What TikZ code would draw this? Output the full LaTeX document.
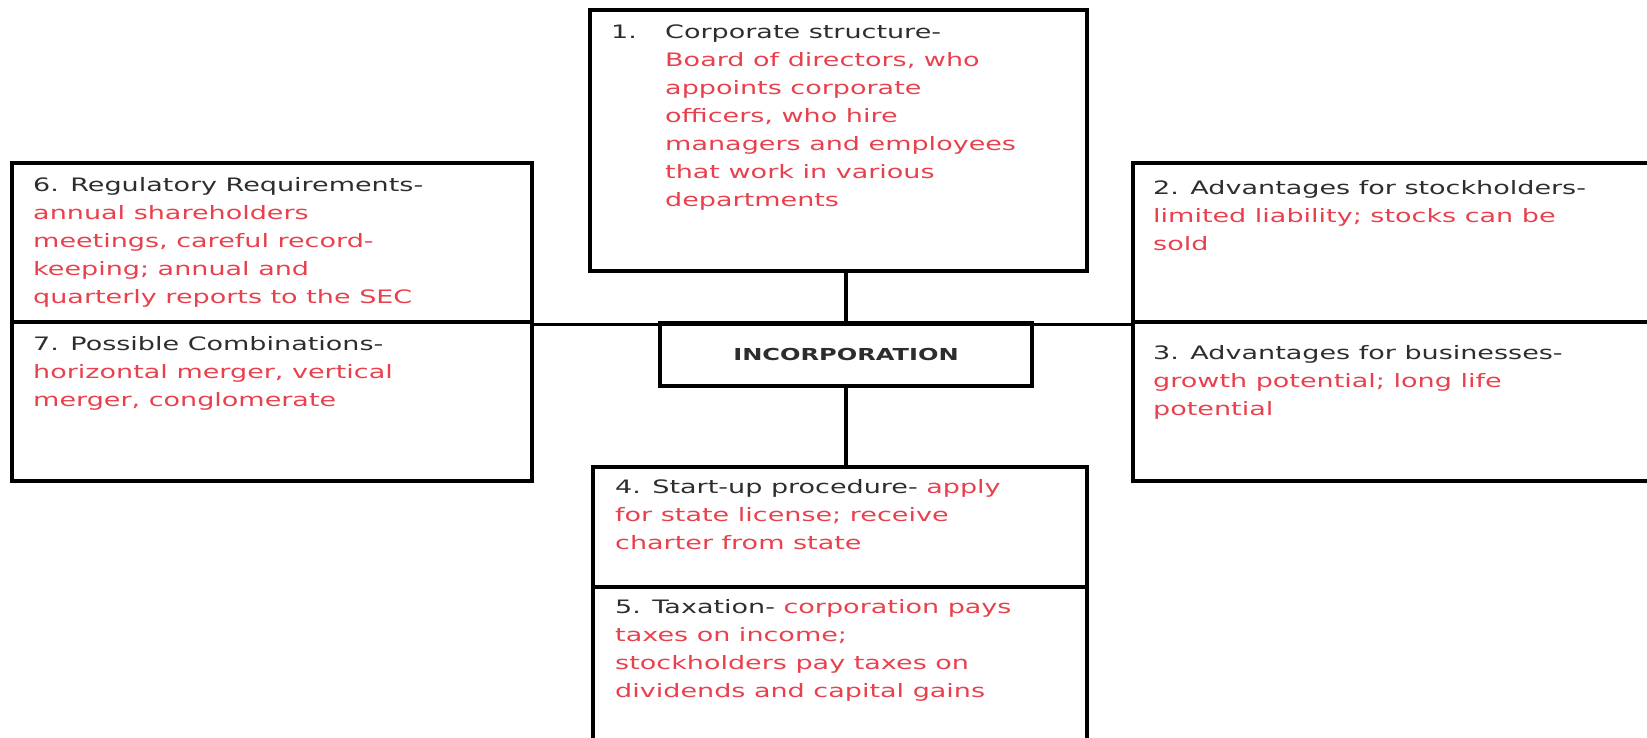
\documentclass[tikz,border=0pt]{standalone}
\usepackage{fontspec}
\setmainfont[FakeStretch=1.46]{DejaVu Sans}
\definecolor{inkred}{RGB}{232,64,76}
\definecolor{inkgray}{RGB}{45,45,45}
\newcommand{\redline}{\color{inkred}}

\begin{document}
\begin{tikzpicture}
  [x=1pt,y=1pt,
   box/.style={draw=black,line width=4pt,shape=rectangle,inner sep=0pt},
   sidebox/.style={box,minimum height=159pt},
   txt/.style={anchor=north west,inner sep=0pt,align=left,text=inkgray,
     font={\fontsize{18.5}{28}\selectfont}},
   node distance=2cm]
  \useasboundingbox (0,0) rectangle (1647,-738);
  \clip (0,0) rectangle (1647,-738);

  \node[box,minimum width=372pt,minimum height=63pt,
    font={\fontsize{16.5}{20}\selectfont\bfseries},text=inkgray] (inc) at (846,-354.5) {INCORPORATION};
  \node[box,minimum width=497pt,minimum height=261pt,above of=inc,node distance=214pt,xshift=-7.5pt] (corp) {};
  \node[sidebox,minimum width=520pt,left of=inc,node distance=574pt,yshift=112pt] (reg) {};
  \node[sidebox,minimum width=520pt,below of=reg,node distance=159pt] (comb) {};
  \node[sidebox,minimum width=527pt,right of=inc,node distance=550.5pt,yshift=112pt] (stock) {};
  \node[sidebox,minimum width=527pt,below of=stock,node distance=159pt] (biz) {};
  \node[box,minimum width=494pt,minimum height=120pt,below of=inc,node distance=172.5pt,xshift=-6pt] (start) {};
  \node[box,minimum width=494pt,minimum height=173pt,below of=start,node distance=146.5pt] (tax) {};

  \draw[line width=3pt] (reg.south east) -- (stock.south west);
  \draw[line width=4pt] (inc.north) -- (inc.north |- corp.south);
  \draw[line width=4pt] (inc.south) -- (inc.south |- start.north);

  \node[txt] (corpnum) at ([shift={(23pt,-17pt)}]corp.north west) {1.};
  \node[txt] (corptxt) at ([shift={(77pt,-17pt)}]corp.north west)
    {Corporate structure-\\ \redline Board of directors, who\\ \redline appoints corporate\\
     \redline officers, who hire\\ \redline managers and employees\\ \redline that work in various\\
     \redline departments};
  \node[txt] (regtxt) at ([shift={(23pt,-16pt)}]reg.north west)
    {6. Regulatory Requirements-\\ \redline annual shareholders\\ \redline meetings, careful record-\\
     \redline keeping; annual and\\ \redline quarterly reports to the SEC};
  \node[txt] (combtxt) at ([shift={(23pt,-16pt)}]comb.north west)
    {7. Possible Combinations-\\ \redline horizontal merger, vertical\\ \redline merger, conglomerate};
  \node[txt] (stocktxt) at ([shift={(22pt,-19pt)}]stock.north west)
    {2. Advantages for stockholders-\\ \redline limited liability; stocks can be\\ \redline sold};
  \node[txt] (biztxt) at ([shift={(22pt,-25pt)}]biz.north west)
    {3. Advantages for businesses-\\ \redline growth potential; long life\\ \redline potential};
  \node[txt] (starttxt) at ([shift={(24pt,-14pt)}]start.north west)
    {4. Start-up procedure- {\redline apply}\\ \redline for state license; receive\\ \redline charter from state};
  \node[txt] (taxtxt) at ([shift={(24pt,-14pt)}]tax.north west)
    {5. Taxation- {\redline corporation pays}\\ \redline taxes on income;\\
     \redline stockholders pay taxes on\\ \redline dividends and capital gains};
\end{tikzpicture}
\end{document}
